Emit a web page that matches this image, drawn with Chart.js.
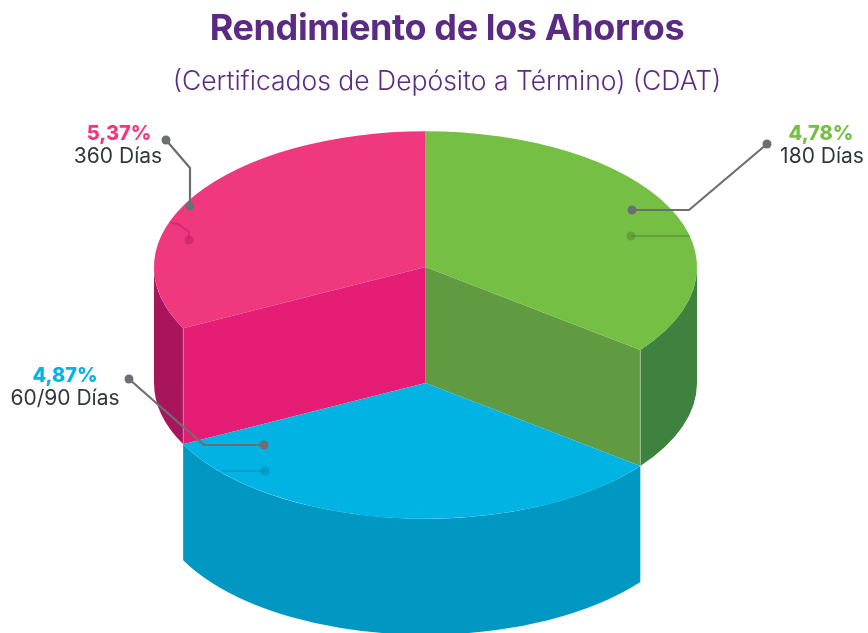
<!DOCTYPE html>
<html>
<head>
<meta charset="utf-8">
<style>html,body{margin:0;padding:0;background:#fff}#w{width:868px;height:633px;position:relative}</style>
<script src="https://cdn.jsdelivr.net/npm/chart.js@4"></script>
</head>
<body>
<div id="w"><canvas id="c"></canvas></div>
<script>
const titleText = 'Rendimiento de los Ahorros';
const subtitleText = '(Certificados de Depósito a Término) (CDAT)';
const categories = ['180 Días', '60/90 Días', '360 Días'];
const rateLabels = ['4,78%', '4,87%', '5,37%'];
// The drawing's wedge sizes in degrees (not proportional to the rates)
const sliceDegrees = [127.7, 115.5, 116.8];
const sliceLowered = [false, true, false];
const topColors = ['#74bf44', '#00b3e3', '#f0387f'];
const wallColors = ['#3f8240', '#0098c3', '#a8155c'];
const cutColors = ['#609b42', null, '#e51d75'];

const SQUASH = 0.5, DEPTH = 116;
const FONT = 'Inter, sans-serif';

function squashed(ctx, arc, dy, fn) {
  ctx.save();
  ctx.translate(arc.x, arc.y + dy);
  ctx.scale(1, SQUASH);
  ctx.translate(-arc.x, -arc.y);
  fn();
  ctx.restore();
}
function drawWall(ctx, arc, dy, color) {
  const a = Math.max(arc.startAngle, 0), a1 = Math.min(arc.endAngle, Math.PI);
  if (a1 <= a) return;
  const R = arc.outerRadius, ry = R * SQUASH;
  ctx.beginPath();
  ctx.ellipse(arc.x, arc.y + dy, R, ry, 0, a, a1);
  ctx.ellipse(arc.x, arc.y + dy + DEPTH, R, ry, 0, a1, a, true);
  ctx.closePath();
  ctx.fillStyle = color;
  ctx.fill();
}
function drawCut(ctx, arc, angle, color) {
  const R = arc.outerRadius;
  const ex = arc.x + R * Math.cos(angle), ey = arc.y + R * SQUASH * Math.sin(angle);
  ctx.beginPath();
  ctx.moveTo(arc.x, arc.y);
  ctx.lineTo(ex, ey);
  ctx.lineTo(ex, ey + DEPTH);
  ctx.lineTo(arc.x, arc.y + DEPTH);
  ctx.closePath();
  ctx.fillStyle = color;
  ctx.fill();
  ctx.beginPath();
  ctx.moveTo(ex, ey);
  ctx.lineTo(ex, ey + DEPTH);
  ctx.strokeStyle = 'rgba(255,255,255,0.3)';
  ctx.lineWidth = 1;
  ctx.stroke();
}
function leader(ctx, pts, color, width, dotR, dotEnds) {
  ctx.beginPath();
  pts.forEach((p, i) => i ? ctx.lineTo(p[0], p[1]) : ctx.moveTo(p[0], p[1]));
  ctx.strokeStyle = color;
  ctx.lineWidth = width;
  ctx.lineJoin = 'miter';
  ctx.stroke();
  ctx.fillStyle = color;
  dotEnds.forEach(i => {
    ctx.beginPath();
    ctx.arc(pts[i][0], pts[i][1], dotR, 0, Math.PI * 2);
    ctx.fill();
  });
}
function text(ctx, s, x, y, font, color, spacing) {
  ctx.font = font;
  ctx.fillStyle = color;
  ctx.textAlign = 'center';
  ctx.textBaseline = 'alphabetic';
  ctx.letterSpacing = spacing || '0px';
  ctx.fillText(s, x, y);
  ctx.letterSpacing = '0px';
}

const pie3d = {
  id: 'pie3d',
  beforeDatasetsDraw(chart) {
    const ctx = chart.ctx;
    const arcs = chart.getDatasetMeta(0).data;
    ctx.save();
    arcs.forEach((arc, i) => { if (!sliceLowered[i]) drawWall(ctx, arc, 0, wallColors[i]); });
    arcs.forEach((arc, i) => {
      if (sliceLowered[i]) return;
      const n = arcs.length;
      if (sliceLowered[(i + 1) % n]) drawCut(ctx, arc, arc.endAngle, cutColors[i]);
      if (sliceLowered[(i + n - 1) % n]) drawCut(ctx, arc, arc.startAngle, cutColors[i]);
    });
    arcs.forEach((arc, i) => {
      if (!sliceLowered[i]) return;
      drawWall(ctx, arc, DEPTH, wallColors[i]);
      squashed(ctx, arc, DEPTH, () => arc.draw(ctx));
    });
    arcs.forEach((arc, i) => {
      if (!sliceLowered[i]) squashed(ctx, arc, 0, () => arc.draw(ctx));
    });

    // faint echoes of the pointers on the slices
    leader(ctx, [[631, 236], [690, 236]], 'rgba(70,120,50,0.4)', 2, 4.5, [0]);
    leader(ctx, [[265, 471], [222, 471]], 'rgba(0,125,170,0.38)', 2, 4.5, [0]);
    leader(ctx, [[189, 240], [189, 232], [178, 224], [171, 223]], 'rgba(190,30,100,0.5)', 2, 4.5, [0]);
    // pointers
    const grey = '#6d6e71';
    leader(ctx, [[767, 144], [689, 210], [632, 210]], grey, 2.2, 4.5, [0, 2]);
    leader(ctx, [[166, 140], [190, 168], [190, 206]], grey, 2.2, 4.5, [0, 2]);
    leader(ctx, [[129, 379], [204, 445], [264, 445]], grey, 2.2, 4.5, [0, 2]);

    // title block
    const purple = '#5b2a82';
    text(ctx, titleText, 447, 40, '700 36px ' + FONT, purple, '-0.4px');
    text(ctx, subtitleText, 447, 90, '300 26.5px ' + FONT, purple, '0px');
    // callouts
    const dark = '#34373a';
    const pos = [[821, 140, 822, 163], [65, 382, 65, 405], [119, 140, 118, 163]];
    categories.forEach((c, i) => {
      text(ctx, rateLabels[i], pos[i][0], pos[i][1], '800 20px ' + FONT, topColors[i]);
      text(ctx, c, pos[i][2], pos[i][3], '400 21px ' + FONT, dark);
    });
    ctx.restore();
    return false;
  }
};

new Chart(document.getElementById('c'), {
  type: 'pie',
  data: {
    labels: categories,
    datasets: [{ data: sliceDegrees, backgroundColor: topColors, borderWidth: 0, hoverOffset: 0 }]
  },
  options: {
    responsive: true,
    maintainAspectRatio: false,
    animation: false,
    events: [],
    radius: 271.5,
    layout: { padding: { left: 0, top: 0, right: 17, bottom: 99 } },
    plugins: { legend: { display: false }, tooltip: { enabled: false }, title: { display: false } }
  },
  plugins: [pie3d]
});
</script>
</body>
</html>
